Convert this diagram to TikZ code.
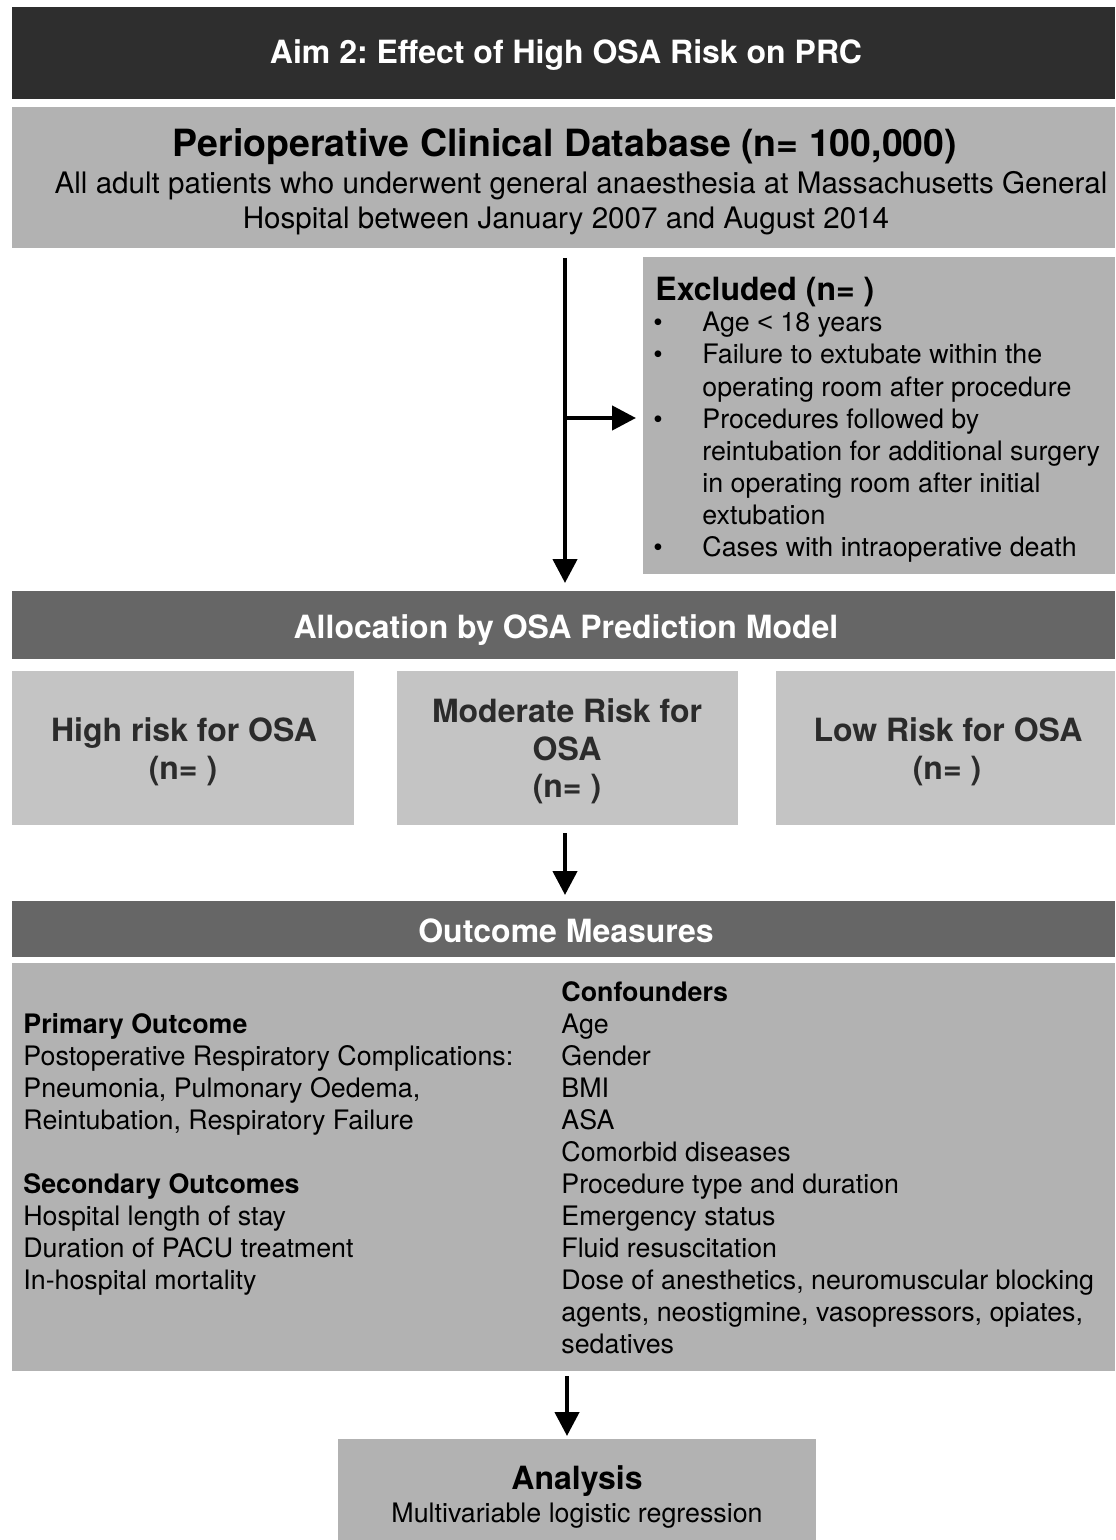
\documentclass[tikz,border=0pt]{standalone}
\usepackage{fontspec}
\setmainfont{TeX Gyre Heros}
\newfontfamily\libsans{Liberation Sans}
\frenchspacing
\usetikzlibrary{fit,arrows.meta}
\definecolor{cdark}{HTML}{2E2E2E}
\definecolor{cmid}{HTML}{666666}
\definecolor{clight}{HTML}{B2B2B2}
\definecolor{crisk}{HTML}{C4C4C4}
\definecolor{crtext}{HTML}{2B2B2B}
\tikzset{
  panel/.style={inner sep=0pt, outer sep=0pt, draw=none},
  body/.style={font=\fontsize{13.4}{16}\selectfont, inner sep=0pt},
  bodyb/.style={font=\fontsize{13.4}{16}\selectfont\bfseries, inner sep=0pt},
  dbbody/.style={font=\fontsize{14.8}{18}\selectfont, inner sep=0pt},
  head/.style={font=\fontsize{16}{19}\selectfont\bfseries, inner sep=0pt},
  arr/.style={line width=2.2pt, -{Triangle[width=12pt,length=12pt]}},
}
\begin{document}
\begin{tikzpicture}[x=0.5pt,y=-0.5pt]
\useasboundingbox[fill=white] (0,0) rectangle (1115,1540);
% title bar
\node[panel, fill=cdark, fit={(12,7) (1115,99)}] (title) {};
\node[head, white, anchor=base] (titletxt) at (566,64) {Aim 2: Effect of High OSA Risk on PRC};
% database
\node[panel, fill=clight, fit={(12,107) (1115,248)}] (db) {};
\node[font=\fontsize{18.75}{22}\selectfont\bfseries, inner sep=0pt, anchor=base] (dbt) at (565,157) {Perioperative Clinical Database (n= 100,000)};
\node[dbbody, anchor=base] (db1) at (581,194) {All adult patients who underwent general anaesthesia at Massachusetts General};
\node[dbbody, anchor=base] (db2) at (566,229) {Hospital between January 2007 and August 2014};
% excluded
\node[panel, fill=clight, fit={(643,257) (1115,574)}] (excl) {};
\node[head, anchor=base west] (exclt) at (655,300) {Excluded (n= )};
\foreach \t [count=\i from 0] in {{Age {\libsans<} 18 years},{Failure to extubate within the},{operating room after procedure},{Procedures followed by},{reintubation for additional surgery},{in operating room after initial},{extubation},{Cases with intraoperative death}}
  \node[body, anchor=base west] (ex\i) at (702,332+32*\i) {\t};
\foreach \i in {0,1,3,7}
  \node[body, anchor=base] (bu\i) at (658,332+32*\i) {\textbullet};
% allocation
\node[panel, fill=cmid, fit={(12,591) (1115,659)}] (alloc) {};
\node[head, white, anchor=base] (alloct) at (566,638) {Allocation by OSA Prediction Model};
% arrows from database
\coordinate (ax) at (565,0);
\coordinate (bj) at (565,418);
\draw[arr, shorten <=5pt, shorten >=4pt] (db.south -| ax) -- (alloc.north -| ax);
\draw[arr, shorten >=3.5pt] (bj) -- (bj -| excl.west);
% risk boxes
\node[panel, fill=crisk, fit={(12,671) (354,825)}] (high) {};
\node[panel, fill=crisk, fit={(397,671) (738,825)}] (mod) {};
\node[panel, fill=crisk, fit={(776,671) (1115,825)}] (low) {};
\node[head, crtext, anchor=base] (high1) at (184,741) {High risk for OSA};
\node[head, crtext, anchor=base] (high2) at (183,779) {(n= )};
\node[head, crtext, anchor=base] (mod1) at (567,722) {Moderate Risk for};
\node[head, crtext, anchor=base] (mod2) at (567,760) {OSA};
\node[head, crtext, anchor=base] (mod3) at (567,797) {(n= )};
\node[head, crtext, anchor=base] (low1) at (948,741) {Low Risk for OSA};
\node[head, crtext, anchor=base] (low2) at (947,779) {(n= )};
% outcome measures
\node[panel, fill=cmid, fit={(12,901) (1115,957)}] (outc) {};
\node[head, white, anchor=base] (outct) at (566,942) {Outcome Measures};
\coordinate (bx) at (565,0);
\draw[arr, shorten <=4pt, shorten >=3pt] (mod.south -| bx) -- (outc.north -| bx);
\node[panel, fill=clight, fit={(12,963) (1115,1371)}] (meas) {};
\node[bodyb, anchor=base west] (po) at (23,1033) {Primary Outcome};
\foreach \t [count=\i from 1] in {{Postoperative Respiratory Complications:},{Pneumonia, Pulmonary Oedema,},{Reintubation, Respiratory Failure}}
  \node[body, anchor=base west] (pl\i) at (23,1033+32*\i) {\t};
\node[bodyb, anchor=base west] (so) at (23,1193) {Secondary Outcomes};
\foreach \t [count=\i from 1] in {{Hospital length of stay},{Duration of PACU treatment},{In-hospital mortality}}
  \node[body, anchor=base west] (sl\i) at (23,1193+32*\i) {\t};
\node[bodyb, anchor=base west] (cf) at (561,1001) {Confounders};
\foreach \t [count=\i from 1] in {Age,Gender,BMI,ASA,{Comorbid diseases},{Procedure type and duration},{Emergency status},{Fluid resuscitation},{Dose of anesthetics, neuromuscular blocking},{agents, neostigmine, vasopressors, opiates,},sedatives}
  \node[body, anchor=base west] (cl\i) at (561,1001+32*\i) {\t};
% analysis
\node[panel, fill=clight, fit={(338,1439) (816,1540)}] (ana) {};
\coordinate (cx) at (567,0);
\draw[arr, shorten <=2.5pt, shorten >=1.5pt] (meas.south -| cx) -- (ana.north -| cx);
\node[head, anchor=base] (anat) at (577,1489) {Analysis};
\node[body, anchor=base] (anal) at (577,1522) {Multivariable logistic regression};
\end{tikzpicture}
\end{document}
